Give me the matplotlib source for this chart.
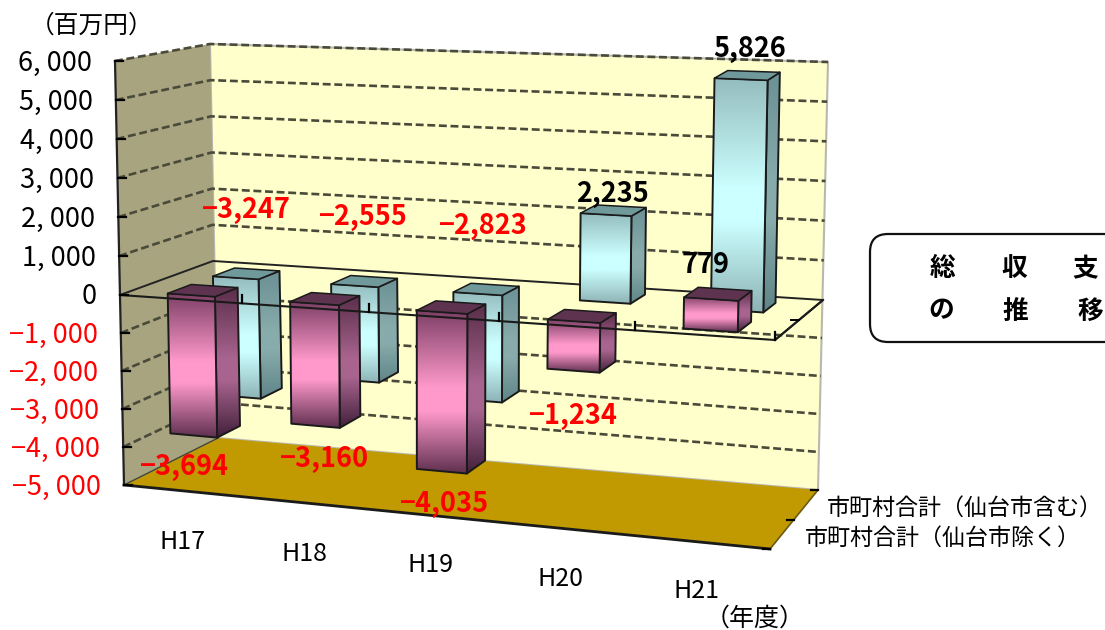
import numpy as np
import matplotlib
matplotlib.use('Agg')
import matplotlib.pyplot as plt
from matplotlib.colors import LinearSegmentedColormap
from matplotlib.patches import Polygon, FancyBboxPatch

plt.rcParams['font.family'] = ['Noto Sans CJK JP', 'DejaVu Sans']

categories = ['H17', 'H18', 'H19', 'H20', 'H21']
series_front = [-3694, -3160, -4035, -1234, 779]
series_back = [-3247, -2555, -2823, 2235, 5826]
axis_values = [6000, 5000, 4000, 3000, 2000, 1000, 0, -1000, -2000, -3000, -4000, -5000]
series_names = ['市町村合計（仙台市除く）', '市町村合計（仙台市含む）']

# label places in picture pixels
front_label_xy = [(184, 467), (325, 459), (445, 504), (573, 416), (706, 265)]
back_label_xy = [(246, 210), (363, 217), (483, 226), (612, 194), (750, 49)]
cat_label_xy = [(182, 542), (304, 554), (430, 565), (561, 579), (697, 591)]

# box corners per level: front-left, front-right, back-right, back-left
levels = [-5000, 0, 6000]
corners = np.array([
    [(124, 485), (770, 549), (818, 490), (218, 438)],
    [(120, 295), (775, 340), (823, 300), (213, 261)],
    [(115, 61), (780, 96), (828, 62), (210, 44)],
], dtype=float)


def project(u, v, z):
    w = u / (1.09 + (1 - 1.09) * u)
    c = [np.interp(z, levels, corners[:, i, 0]) for i in range(4)]
    d = [np.interp(z, levels, corners[:, i, 1]) for i in range(4)]
    x = (1 - v) * ((1 - w) * c[0] + w * c[1]) + v * ((1 - w) * c[3] + w * c[2])
    y = (1 - v) * ((1 - w) * d[0] + w * d[1]) + v * ((1 - w) * d[3] + w * d[2])
    return x, y


fig = plt.figure(figsize=(11.05, 6.30), dpi=100)
ax = fig.add_axes([0, 0, 1, 1])
ax.set_xlim(0, 1105)
ax.set_ylim(630, 0)
ax.axis('off')


def poly(pts, **kw):
    p = Polygon(pts, closed=True, **kw)
    ax.add_patch(p)
    return p


def grad_face(pts, cmap, zorder):
    pts = np.array(pts)
    outline = poly(pts, fc='none', ec='none', zorder=zorder)
    g = np.linspace(0, 1, 128).reshape(-1, 1)
    im = ax.imshow(g, cmap=cmap, aspect='auto', zorder=zorder, vmin=0, vmax=1,
                   extent=(pts[:, 0].min(), pts[:, 0].max(), pts[:, 1].max(), pts[:, 1].min()))
    im.set_clip_path(outline)
    poly(pts, fc='none', ec='#1a1a1a', lw=1.4, joinstyle='round', zorder=zorder + 0.1)


# walls and floor
poly([project(0, 1, 6000), project(1, 1, 6000), project(1, 1, -5000), project(0, 1, -5000)],
     fc='#ffffcc', ec='#b8b8b0', lw=1.5, zorder=1)
poly([project(0, 0, 6000), project(0, 1, 6000), project(0, 1, -5000), project(0, 0, -5000)],
     fc='#a8a480', ec='none', zorder=1)
poly([project(0, 0, -5000), project(1, 0, -5000), project(1, 1, -5000), project(0, 1, -5000)],
     fc='#c09a00', ec='none', zorder=2)

# grid lines
for val in axis_values:
    if val in (0, -5000):
        continue
    pts = [project(0, 0, val), project(0, 1, val), project(1, 1, val)]
    ax.plot(*zip(*pts), color='#4a4a3a', lw=1.9, ls=(0, (3, 1.4)), zorder=3)

# zero plane, back and left edges sit behind the bars
pts = [project(0, 0, 0), project(0, 1, 0), project(1, 1, 0), project(1, 0, 0)]
ax.plot(*zip(*pts), color='#222222', lw=1.4, zorder=3.5)

# floor front edge and axis
ax.plot(*zip(project(0, 0, -5000), project(1, 0, -5000)), color='#1a1a1a', lw=2, zorder=3.5)
ax.plot(*zip(project(1, 0, -5000), project(1, 1, -5000)), color='#6b5a10', lw=1.2, zorder=3.5)
ax.plot(*zip(project(0, 0, -5000), project(0, 1, -5000)), color='#444444', lw=1, zorder=3.5)
ax.plot(*zip(project(0, 0, 6000), project(0, 0, -5000)), color='#222222', lw=1.6, zorder=4)

pink_front = LinearSegmentedColormap.from_list(
    'pf', [(0, '#7d3f65'), (0.47, '#ff99cc'), (0.62, '#ff99cc'), (1, '#5e2f4e')])
pink_side = LinearSegmentedColormap.from_list(
    'ps', [(0, '#5a2e4a'), (0.47, '#a8648f'), (0.62, '#a8648f'), (1, '#42203a')])
cyan_front = LinearSegmentedColormap.from_list(
    'cf', [(0, '#94bcbe'), (0.47, '#ccffff'), (0.62, '#ccffff'), (1, '#8db3b6')])
cyan_side = LinearSegmentedColormap.from_list(
    'cs', [(0, '#6b9195'), (0.47, '#88abab'), (0.62, '#88abab'), (1, '#5f8588')])

half = 0.039


def bar(i, val, v0, v1, cmap_f, cmap_s, top_col, zorder):
    uc = (i + 0.5) / len(categories)
    u0, u1 = uc - half, uc + half
    hi, lo = max(val, 0), min(val, 0)
    grad_face([project(u1, v0, hi), project(u1, v1, hi), project(u1, v1, lo), project(u1, v0, lo)],
              cmap_s, zorder)
    grad_face([project(u0, v0, hi), project(u1, v0, hi), project(u1, v0, lo), project(u0, v0, lo)],
              cmap_f, zorder + 0.2)
    poly([project(u0, v0, hi), project(u1, v0, hi), project(u1, v1, hi), project(u0, v1, hi)],
         fc=top_col, ec='#1a1a1a', lw=1.1, zorder=zorder + 0.3)


for i, val in enumerate(series_back):
    bar(i, val, 0.62, 0.86, cyan_front, cyan_side, '#70999c', 5 + i)
for i, val in enumerate(series_front):
    bar(i, val, 0.12, 0.38, pink_front, pink_side, '#5e3350', 11 + i)

# front zero line goes over the bars
pts = [project(0, 0, 0), project(1, 0, 0), project(1, 1, 0)]
ax.plot(*zip(*pts), color='#1a1a1a', lw=1.5, zorder=18)

# ticks
for k in range(1, len(categories) + 1):
    x, y = project(k / len(categories), 0, 0)
    ax.plot([x, x], [y - 8, y], color='black', lw=1.6, zorder=19)
x, y = project(1, 0.5, 0)
ax.plot([x - 8, x], [y, y], color='black', lw=1.4, zorder=19)
for v in (0, 0.5, 1):
    x, y = project(1, v, -5000)
    ax.plot([x - 7, x], [y, y], color='black', lw=1.6, zorder=19)
for val in axis_values:
    x, y = project(0, 0, val)
    ax.plot([x, x + 8], [y, y], color='black', lw=1.6, zorder=19)
    txt = f'{val:,}'.replace(',', ', ').replace('-', '−')
    ax.text(x - 23, y + 2, txt, ha='right', va='center', fontsize=19.5,
            color='red' if val < 0 else 'black', zorder=20)

# value labels
for val, (x, y) in zip(series_front + series_back, front_label_xy + back_label_xy):
    ax.text(x, y, f'{val:,}'.replace('-', '−'), ha='center', va='center', fontsize=19.5,
            fontweight='bold', color='red' if val < 0 else 'black', zorder=21)

for name, (x, y) in zip(categories, cat_label_xy):
    ax.text(x, y, name, ha='center', va='center', fontsize=18, zorder=20)

ax.text(92, 26, '（百万円）', ha='center', va='center', fontsize=17.8)
ax.text(755, 619, '（年度）', ha='center', va='center', fontsize=18)
ax.text(1103, 508, series_names[1], ha='right', va='center', fontsize=16.6, zorder=20)
ax.text(1081, 538, series_names[0], ha='right', va='center', fontsize=16.6, zorder=20)

# title box runs off the right side
ax.add_patch(FancyBboxPatch((870, 234), 300, 108, boxstyle='round,pad=0,rounding_size=18',
                            fc='white', ec='#111111', lw=1.6, zorder=1))
for ch, x, y in [('総', 943, 269), ('収', 1014, 269), ('支', 1085, 269),
                 ('の', 941, 311), ('推', 1015, 311), ('移', 1090, 311)]:
    ax.text(x, y, ch, ha='center', va='center', fontsize=18.5, fontweight='bold', zorder=2)

ax.set_xlim(0, 1105)
ax.set_ylim(630, 0)
fig.savefig('out.png', dpi=100)
